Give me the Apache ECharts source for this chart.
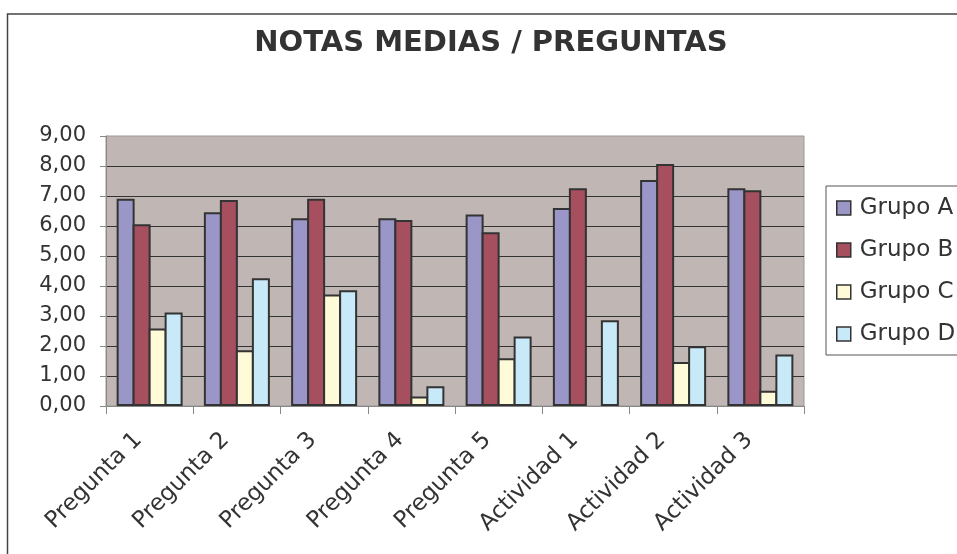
<!DOCTYPE html>
<html>
<head>
<meta charset="utf-8">
<script src="https://cdn.jsdelivr.net/npm/echarts@6/dist/echarts.min.js"></script>
<style>
  html, body { margin: 0; padding: 0; background: #fff; }
  #chart { width: 957px; height: 554px; }
</style>
</head>
<body>
<div id="chart"></div>
<script>
// datos
const categorias = ['Pregunta 1', 'Pregunta 2', 'Pregunta 3', 'Pregunta 4', 'Pregunta 5', 'Actividad 1', 'Actividad 2', 'Actividad 3']
const grupoA = [6.91, 6.46, 6.26, 6.26, 6.38, 6.60, 7.53, 7.26]
const grupoB = [6.06, 6.87, 6.91, 6.20, 5.79, 7.26, 8.07, 7.19]
const grupoC = [2.58, 1.86, 3.72, 0.32, 1.59, null, 1.47, 0.51]
const grupoD = [3.12, 4.26, 3.86, 0.66, 2.32, 2.86, 1.99, 1.72]
const nombres = ['Grupo A', 'Grupo B', 'Grupo C', 'Grupo D']
const colores = ['#9b96c8', '#a64f5f', '#fffad8', '#c8e9f8']

const fuente = 'DejaVu Sans'

const chart = echarts.init(document.getElementById('chart'))

const series = [grupoA, grupoB, grupoC, grupoD].map((datos, i) => ({
  name: nombres[i],
  type: 'bar',
  data: datos,
  barWidth: 18,
  barGap: '-11.11%',
  itemStyle: {
    color: colores[i],
    borderColor: '#333',
    borderWidth: 2
  }
}))

chart.setOption({
  animation: false,
  textStyle: { fontFamily: fuente, color: '#333' },
  title: {
    text: 'NOTAS MEDIAS / PREGUNTAS',
    left: 486,
    top: 24,
    textAlign: 'center',
    textStyle: { fontFamily: fuente, fontSize: 29, fontWeight: 'bold', color: '#333' }
  },
  // marco exterior
  graphic: [
    {
      type: 'rect',
      shape: { x: 7.5, y: 14, width: 1000, height: 600 },
      style: { fill: 'none', stroke: '#444', lineWidth: 1.5 },
      silent: true
    }
  ],
  legend: {
    data: nombres,
    orient: 'vertical',
    left: 826,
    top: 186,
    padding: [10, 30, 9, 10],
    itemWidth: 14,
    itemHeight: 14,
    itemGap: 18,
    icon: 'rect',
    borderColor: '#555',
    borderWidth: 1,
    backgroundColor: '#fff',
    itemStyle: { borderColor: '#333', borderWidth: 1.5 },
    textStyle: { fontFamily: fuente, fontSize: 23, color: '#333', lineHeight: 24, padding: [0, 0, 0, 4] }
  },
  grid: {
    left: 106,
    right: 153,
    top: 136,
    bottom: 148,
    show: true,
    backgroundColor: '#c0b7b4',
    borderColor: '#999',
    borderWidth: 1
  },
  xAxis: {
    type: 'category',
    data: categorias,
    axisLine: { lineStyle: { color: '#888', width: 1 } },
    axisTick: { show: true, length: 8, lineStyle: { color: '#888' } },
    axisLabel: {
      interval: 0,
      rotate: 45,
      margin: 19,
      padding: [0, 16, 0, 0],
      fontFamily: fuente,
      fontSize: 23,
      color: '#333'
    }
  },
  yAxis: {
    type: 'value',
    min: 0,
    max: 9,
    interval: 1,
    axisLine: { show: true, lineStyle: { color: '#888' } },
    axisTick: { show: true, length: 6, lineStyle: { color: '#888' } },
    axisLabel: {
      margin: 20,
      fontFamily: fuente,
      fontSize: 21,
      color: '#333',
      formatter: v => v.toFixed(2).replace('.', ',')
    },
    splitLine: { show: true, showMaxLine: false, lineStyle: { color: '#333', width: 1 } }
  },
  series: series
})
</script>
</body>
</html>
